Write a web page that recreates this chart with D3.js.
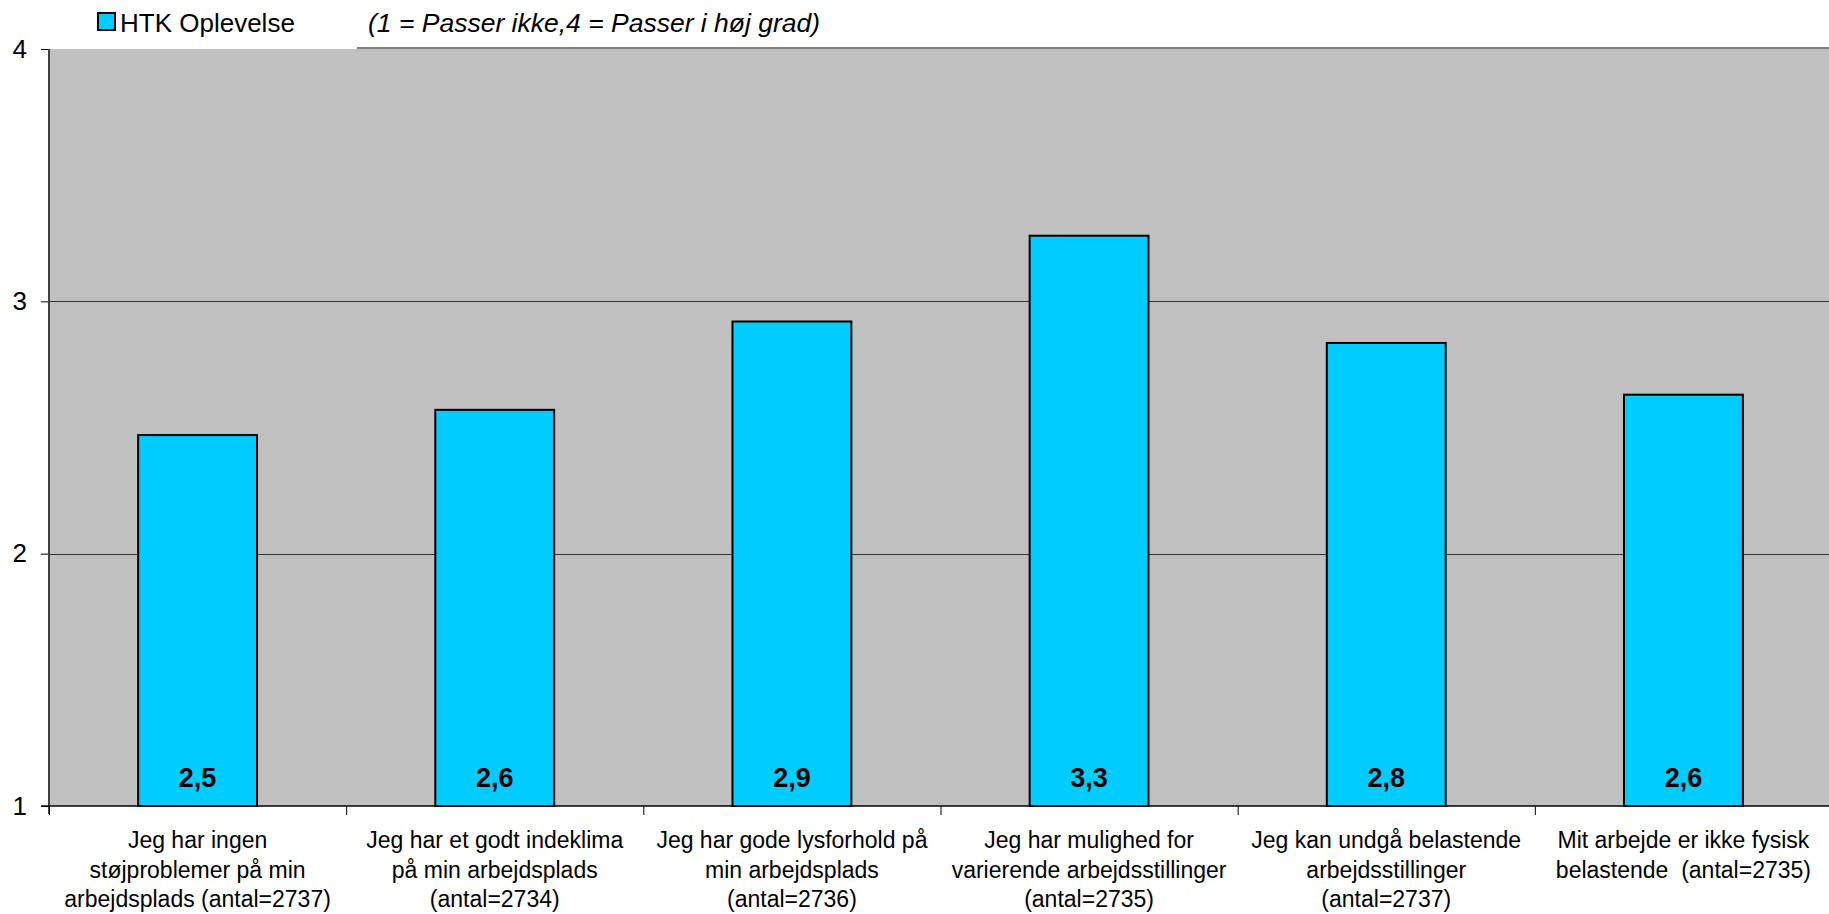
<!DOCTYPE html>
<html>
<head>
<meta charset="utf-8">
<script src="https://cdn.jsdelivr.net/npm/d3@7"></script>
<style>
html,body{margin:0;padding:0;background:#fff;}
svg{display:block;font-family:"Liberation Sans",Arial,sans-serif;}
.cat tspan{white-space:pre;}
</style>
</head>
<body>
<svg id="chart" width="1829" height="914"></svg>
<script>
// ---- data ----
const categoryLines = [
  ["Jeg har ingen", "støjproblemer på min", "arbejdsplads (antal=2737)"],
  ["Jeg har et godt indeklima", "på min arbejdsplads", "(antal=2734)"],
  ["Jeg har gode lysforhold på", "min arbejdsplads", "(antal=2736)"],
  ["Jeg har mulighed for", "varierende arbejdsstillinger", "(antal=2735)"],
  ["Jeg kan undgå belastende", "arbejdsstillinger", "(antal=2737)"],
  ["Mit arbejde er ikke fysisk", "belastende  (antal=2735)"]
];
const values = [2.47, 2.57, 2.92, 3.26, 2.835, 2.63];
const valueLabels = ["2,5", "2,6", "2,9", "3,3", "2,8", "2,6"];
const yTicks = [1, 2, 3, 4];
const seriesName = "HTK Oplevelse";
const subtitle = "(1 = Passer ikke,4 = Passer i høj grad)";

(function () {
// ---- layout ----
const svg = d3.select("#chart");
const pL = 49, pR = 1832, pT = 49, pB = 806;
const cats = d3.range(values.length);

const x = d3.scaleBand().domain(cats).range([pL, pR]).padding(0);
const y = d3.scaleLinear().domain([1, 4]).range([pB, pT]);
const barW = x.bandwidth() * 0.4;

// plot background
svg.append("rect")
  .attr("x", pL).attr("y", pT)
  .attr("width", pR - pL).attr("height", pB - pT)
  .attr("fill", "#c0c0c0");

// top border (partly hidden by legend box)
svg.append("line")
  .attr("x1", 357).attr("x2", pR)
  .attr("y1", pT - 1).attr("y2", pT - 1)
  .attr("stroke", "#808080").attr("stroke-width", 2);

// gridlines
svg.append("g").selectAll("line")
  .data(yTicks.filter(d => d > 1 && d < 4))
  .join("line")
  .attr("x1", pL).attr("x2", pR)
  .attr("y1", d => Math.round(y(d)) + 0.5).attr("y2", d => Math.round(y(d)) + 0.5)
  .attr("stroke", "#333").attr("stroke-width", 1);

// bars
svg.append("g").selectAll("rect")
  .data(values)
  .join("rect")
  .attr("x", (d, i) => x(i) + (x.bandwidth() - barW) / 2)
  .attr("y", d => y(d))
  .attr("width", barW)
  .attr("height", d => y(1) - y(d))
  .attr("fill", "#00ccff")
  .attr("stroke", "#000").attr("stroke-width", 2);

// value labels
svg.append("g").selectAll("text")
  .data(valueLabels)
  .join("text")
  .attr("x", (d, i) => x(i) + x.bandwidth() / 2)
  .attr("y", pB - 19)
  .attr("text-anchor", "middle")
  .attr("font-size", 27).attr("font-weight", "bold")
  .attr("fill", "#000")
  .text(d => d);

// y axis
const yAxis = d3.axisLeft(y).tickValues(yTicks).tickSize(8).tickPadding(14).tickFormat(d3.format("d"));
const gy = svg.append("g").attr("transform", `translate(${pL},0)`).call(yAxis);
gy.select(".domain").remove();
gy.selectAll(".tick line").attr("stroke", "#000");
gy.selectAll(".tick text").attr("font-size", 26).attr("font-family", "Liberation Sans, Arial, sans-serif").attr("fill", "#000");
svg.append("line")
  .attr("x1", pL).attr("x2", pL).attr("y1", pT).attr("y2", pB + 8)
  .attr("stroke", "#404040").attr("stroke-width", 2);

// x axis
const xEdges = d3.range(values.length + 1).map(i => pL + i * x.step());
svg.append("line")
  .attr("x1", pL - 8).attr("x2", pR).attr("y1", pB).attr("y2", pB)
  .attr("stroke", "#000").attr("stroke-width", 1.5);
svg.append("g").selectAll("line")
  .data(xEdges)
  .join("line")
  .attr("x1", d => d + 0.5).attr("x2", d => d + 0.5)
  .attr("y1", pB).attr("y2", pB + 9)
  .attr("stroke", "#000").attr("stroke-width", 1);

// category labels
const catG = svg.append("g").attr("class", "cat").selectAll("text")
  .data(categoryLines)
  .join("text")
  .attr("text-anchor", "middle")
  .attr("font-size", 23)
  .attr("fill", "#000");
catG.selectAll("tspan")
  .data((d, i) => d.map(t => ({ t, i })))
  .join("tspan")
  .attr("x", d => x(d.i) + x.bandwidth() / 2)
  .attr("y", (d, j) => 848 + j * 29.5)
  .text(d => d.t);

// legend
svg.append("rect")
  .attr("x", 98).attr("y", 13).attr("width", 17).attr("height", 17)
  .attr("fill", "#00ccff").attr("stroke", "#000").attr("stroke-width", 2);
svg.append("text")
  .attr("x", 120).attr("y", 32)
  .attr("font-size", 26).attr("fill", "#000")
  .text(seriesName);
svg.append("text")
  .attr("x", 368).attr("y", 32)
  .attr("font-size", 26.5).attr("font-style", "italic").attr("fill", "#000")
  .text(subtitle);
})();
</script>
</body>
</html>
